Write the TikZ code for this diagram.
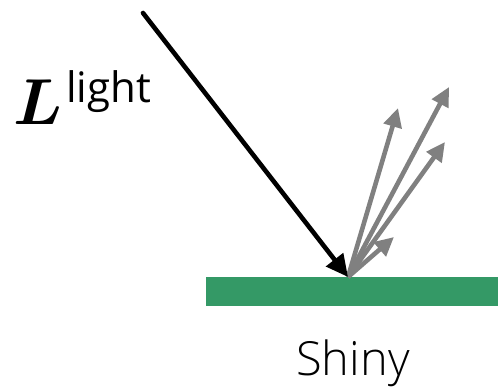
\RequirePackage{fix-cm}
\documentclass[tikz,border=0pt]{standalone}
\usepackage{fontspec}
\usepackage{bm}
\setmainfont{Open Sans}
\newfontfamily\lightfont{Open Sans Light}
\usetikzlibrary{arrows.meta}
\definecolor{surf}{RGB}{52,153,102}
\definecolor{refl}{RGB}{128,128,128}
\tikzset{
  reflarrow/.style={draw=refl, line width=4.6pt, -{Triangle[length=19pt,width=18pt]}},
  inarrow/.style={draw=black, line width=4.6pt, line cap=round, -{Triangle[length=22pt,width=21pt]}},
}
\begin{document}
\begin{tikzpicture}[x=1pt,y=-1pt]
\useasboundingbox (0,0) rectangle (498,387);
\fill[surf] (206,277) rectangle (498,306);
\coordinate (hit) at (348,277);
\coordinate (src) at (143,13);
\coordinate (r1) at (398,108);
\coordinate (r2) at (449,87);
\coordinate (r3) at (445,142);
\coordinate (r4) at (394,237);
\draw[reflarrow] (hit) -- (r1);
\draw[reflarrow] (hit) -- (r2);
\draw[reflarrow] (hit) -- (r3);
\draw[reflarrow] (hit) -- (r4);
\draw[inarrow] (src) -- (hit);
\node[anchor=base west, inner sep=0pt, font=\fontsize{65}{65}\selectfont] (L) at (13,125) {$\bm{L}$};
\node[anchor=base west, inner sep=0pt, font=\fontsize{42}{42}\selectfont] (sup) at (66,103) {light};
\node[anchor=base, inner sep=0pt, font=\lightfont\fontsize{47}{47}\selectfont] (shiny) at (353,375) {Shiny};
\end{tikzpicture}
\end{document}
